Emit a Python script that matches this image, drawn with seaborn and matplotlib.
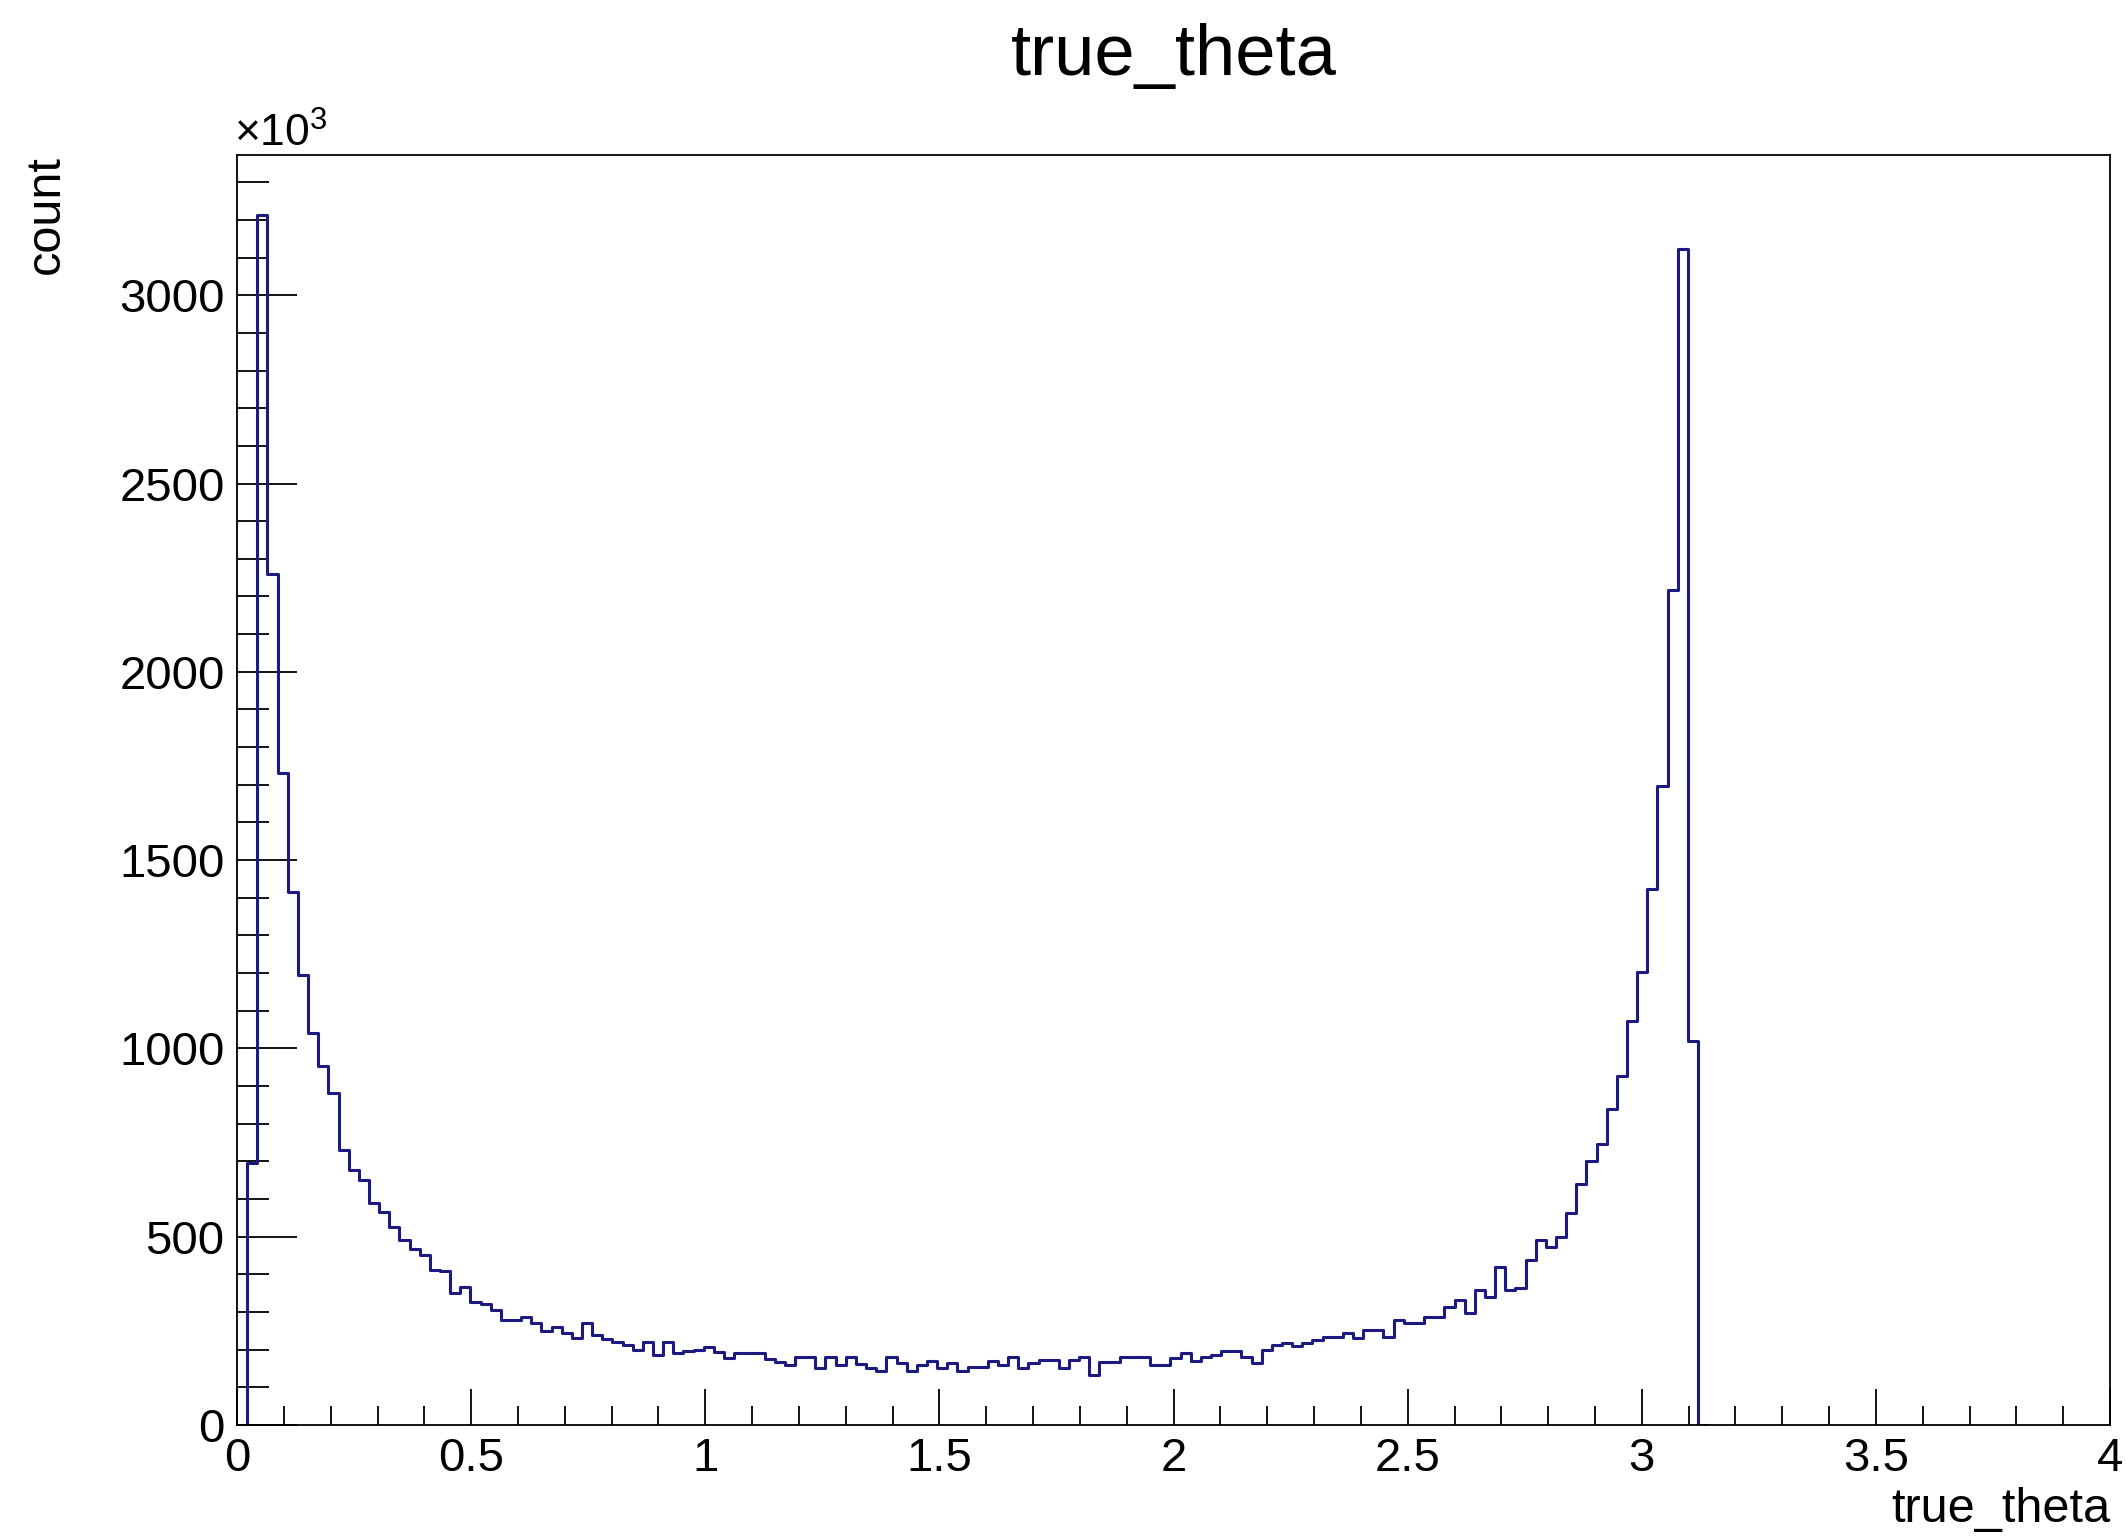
import numpy as np
import pandas as pd
import matplotlib
matplotlib.use("Agg")
from matplotlib import pyplot as plt
from matplotlib.ticker import MultipleLocator
import seaborn as sns

# histogram range, bins are ~0.0217 wide
theta_min = 0.0
theta_max = 3.12
n_filled = 144

# bin contents (units of 10^3 entries), left to right; last entry is the
# first empty bin after the cut-off so the outline drops back to zero
counts_k = [
    0, 695, 3212, 2261, 1730, 1416, 1195, 1041, 953, 882,
    730, 677, 650, 590, 565, 526, 491, 468, 452, 411,
    408, 350, 367, 327, 320, 305, 279, 279, 287, 270,
    250, 261, 243, 230, 270, 240, 228, 219, 212, 200,
    221, 186, 221, 190, 197, 200, 208, 195, 177, 190,
    190, 190, 175, 168, 159, 181, 181, 150, 181, 159,
    180, 162, 150, 142, 181, 164, 142, 159, 171, 150,
    164, 142, 155, 155, 171, 159, 181, 150, 164, 173,
    173, 150, 173, 181, 133, 168, 168, 181, 181, 181,
    159, 159, 177, 190, 171, 181, 186, 197, 197, 181,
    164, 199, 212, 217, 210, 217, 226, 234, 234, 243,
    230, 252, 252, 234, 279, 270, 270, 287, 287, 314,
    332, 297, 358, 340, 420, 358, 363, 438, 491, 473,
    500, 562, 640, 700, 745, 840, 928, 1073, 1202, 1423,
    1698, 2216, 3123, 1019, 0,
]

title = "true_theta"
x_title = "true_theta"
y_title = "count"

bin_width = (theta_max - theta_min) / n_filled
n_bins = len(counts_k)
edges = theta_min + np.arange(n_bins + 1) * bin_width
df = pd.DataFrame({"theta": (edges[:-1] + edges[1:]) / 2, "count_k": counts_k})

sns.set_style("white")
plt.rcParams["font.family"] = ["Liberation Sans", "DejaVu Sans"]
plt.rcParams["mathtext.fontset"] = "custom"
plt.rcParams["mathtext.rm"] = "Liberation Sans"
plt.rcParams["text.color"] = "black"
plt.rcParams["axes.labelcolor"] = "black"

fig = plt.figure(figsize=(21.26, 15.40), dpi=100)
ax = fig.add_axes([0.1115, 0.0747, 0.881, 0.8247])

sns.histplot(data=df, x="theta", weights="count_k", bins=n_bins,
             binrange=(edges[0], edges[-1]),
             element="step", fill=False, color="#1a1a80", linewidth=2.2, ax=ax)

ax.set_xlim(0, 4)
ax.set_ylim(0, max(counts_k) * 1.05)

ax.xaxis.set_major_locator(MultipleLocator(0.5))
ax.xaxis.set_minor_locator(MultipleLocator(0.1))
ax.yaxis.set_major_locator(MultipleLocator(500))
ax.yaxis.set_minor_locator(MultipleLocator(100))
ax.xaxis.set_major_formatter(lambda v, p: f"{v:g}")

ax.tick_params(axis="x", which="major", direction="in", length=26, width=1.3,
               labelsize=34, pad=9, colors="black")
ax.tick_params(axis="x", which="minor", direction="in", length=14, width=1.3,
               colors="black")
ax.tick_params(axis="y", which="major", direction="in", length=43, width=1.3,
               labelsize=34, pad=9, colors="black")
ax.tick_params(axis="y", which="minor", direction="in", length=23, width=1.3,
               colors="black")
ax.tick_params(top=False, right=False, which="both")
ax.tick_params(bottom=True, left=True, which="both")

for side in ax.spines.values():
    side.set_color("black")
    side.set_linewidth(1.3)

ax.set_xlabel(x_title, loc="right", fontsize=35, labelpad=4, color="black")
ax.set_ylabel(y_title, loc="top", fontsize=35, labelpad=36, color="black")

ax.annotate(r"$\times$10$^{3}$", xy=(0, 1), xycoords="axes fraction",
            xytext=(-2, 6), textcoords="offset points", fontsize=32,
            ha="left", va="baseline", color="black")

fig.text(0.552, 1 - 75 / 1540, title, fontsize=52, ha="center",
         va="baseline", color="black")

plt.savefig("out.png", dpi=100, facecolor="white")
